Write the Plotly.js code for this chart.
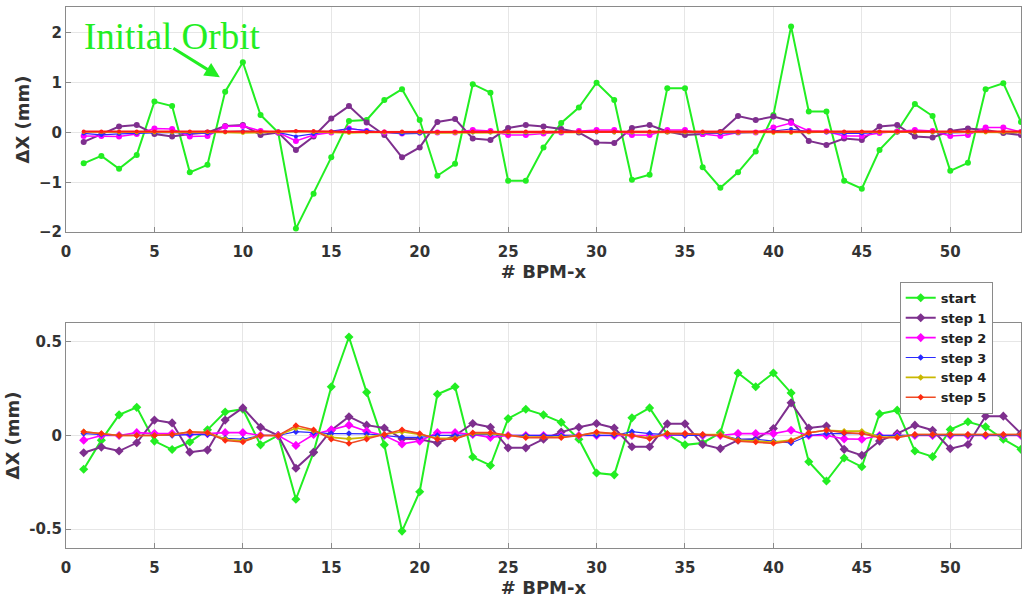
<!DOCTYPE html>
<html>
<head>
<meta charset="utf-8">
<script src="https://cdn.plot.ly/plotly-3.0.1.min.js"></script>
<style>html,body{margin:0;padding:0;background:#fff;}#chart{width:1028px;height:605px;}</style>
</head>
<body>
<div id="chart"></div>
<script>
// BPM index
const bpm = [1,2,3,4,5,6,7,8,9,10,11,12,13,14,15,16,17,18,19,20,21,22,23,24,25,26,27,28,29,30,31,32,33,34,35,36,37,38,39,40,41,42,43,44,45,46,47,48,49,50,51,52,53,54];

// ---- Top panel (initial orbit correction) ----
const topStart = [-0.62,-0.47,-0.73,-0.45,0.62,0.53,-0.8,-0.65,0.82,1.41, 0.35,0.0,-1.93,-1.23,-0.5,0.23,0.25,0.65,0.87,0.25, -0.87,-0.63,0.97,0.8,-0.97,-0.97,-0.3,0.19,0.5,1.0, 0.65,-0.95,-0.85,0.89,0.89,-0.7,-1.11,-0.8,-0.38,0.35, 2.13,0.42,0.42,-0.97,-1.13,-0.35,0.02,0.57,0.33,-0.77, -0.61,0.87,0.99,0.21];
const topStep1 = [-0.19,-0.03,0.12,0.15,-0.03,-0.08,-0.03,0.0,0.13,0.15, -0.05,0.0,-0.35,-0.08,0.28,0.53,0.2,-0.05,-0.5,-0.3, 0.21,0.27,-0.12,-0.15,0.09,0.15,0.12,0.07,0.0,-0.2, -0.21,0.09,0.15,0.02,-0.05,-0.03,0.01,0.33,0.25,0.32, 0.23,-0.17,-0.25,-0.12,-0.15,0.12,0.15,-0.08,-0.1,0.03, 0.08,0.05,-0.01,-0.05];
const topStep2 = [-0.07,-0.07,-0.08,-0.03,0.08,0.07,-0.08,-0.07,0.12,0.13, 0.03,0.0,-0.17,-0.05,0.0,0.08,0.03,0.0,-0.02,0.0, 0.0,0.0,0.05,0.03,-0.05,-0.05,-0.02,0.0,0.03,0.05, 0.05,-0.05,-0.05,0.05,0.05,-0.03,-0.07,0.0,0.0,0.1, 0.19,0.03,0.02,-0.07,-0.07,-0.01,0.02,0.05,0.03,-0.07, -0.05,0.1,0.1,0.01];
const topStep3 = [-0.02,-0.05,-0.03,-0.02,0.0,0.0,-0.02,-0.02,0.02,0.03, 0.01,0.0,-0.08,-0.03,0.02,0.08,0.04,0.0,-0.03,-0.02, 0.0,0.0,0.0,0.0,-0.01,-0.01,0.0,0.0,0.0,0.0, 0.0,0.0,0.0,0.01,0.0,-0.01,-0.02,-0.01,0.0,0.03, 0.07,0.02,0.0,-0.02,-0.02,0.0,0.0,0.01,0.0,-0.01, 0.0,0.01,0.01,0.0];
const topStep4 = [0.01,0.01,0.0,0.0,0.0,0.0,0.01,0.01,0.0,-0.01, 0.0,0.0,0.02,0.01,0.0,-0.01,0.0,0.0,0.01,0.0, -0.01,-0.01,0.0,0.0,0.0,0.0,0.0,0.0,0.0,0.01, 0.0,0.0,0.0,0.0,0.0,0.0,0.0,-0.01,-0.01,-0.01, -0.01,0.0,0.01,0.01,0.01,0.0,0.0,0.0,0.0,0.0, 0.0,0.0,0.0,0.0];
const topStep5 = [0.02,0.02,0.02,0.02,0.02,0.02,0.02,0.02,0.01,0.01, 0.02,0.02,0.03,0.03,0.02,0.01,0.01,0.02,0.02,0.02, 0.01,0.01,0.02,0.02,0.02,0.02,0.02,0.02,0.02,0.02, 0.02,0.02,0.02,0.02,0.02,0.02,0.02,0.01,0.01,0.01, 0.01,0.02,0.02,0.02,0.02,0.02,0.02,0.02,0.02,0.02, 0.02,0.02,0.02,0.02];

// ---- Bottom panel ----
const botStart = [-0.18,-0.025,0.11,0.15,-0.03,-0.075,-0.035,0.03,0.125,0.14, -0.05,0.0,-0.34,-0.09,0.26,0.525,0.23,-0.05,-0.51,-0.3, 0.22,0.26,-0.115,-0.16,0.09,0.14,0.11,0.07,-0.02,-0.2, -0.21,0.094,0.147,0.005,-0.05,-0.04,0.014,0.333,0.26,0.333, 0.227,-0.14,-0.243,-0.12,-0.167,0.115,0.135,-0.083,-0.113,0.032, 0.073,0.046,-0.02,-0.074];
const botStep1 = [-0.092,-0.062,-0.083,-0.039,0.082,0.067,-0.089,-0.078,0.082,0.147, 0.044,0.0,-0.175,-0.09,0.028,0.1,0.055,0.04,-0.018,-0.02, -0.04,0.0,0.064,0.044,-0.066,-0.066,-0.02,0.018,0.044,0.064, 0.04,-0.06,-0.06,0.062,0.062,-0.048,-0.07,-0.025,-0.02,0.037, 0.174,0.04,0.05,-0.074,-0.106,-0.03,0.01,0.055,0.028,-0.07, -0.048,0.103,0.103,0.01];
const botStep2 = [-0.025,0.0,0.0,0.015,0.01,0.01,0.005,0.01,0.015,0.015, 0.0,0.0,-0.053,0.005,0.03,0.055,0.023,0.0,-0.045,-0.03, 0.015,0.015,0.005,-0.01,0.0,0.0,0.0,0.0,0.0,0.0, 0.0,0.0,0.0,0.0,0.005,0.0,0.0,0.01,0.01,0.01, 0.028,0.0,0.0,-0.018,-0.02,0.0,0.0,0.0,0.0,0.0, 0.0,0.0,0.0,0.0];
const botStep3 = [0.01,0.005,0.0,0.0,0.0,0.0,0.005,0.005,-0.015,-0.02, 0.0,0.0,0.02,0.015,0.01,0.01,0.008,0.0,-0.01,-0.01, 0.0,0.0,0.005,0.005,0.0,0.0,0.0,0.0,0.0,0.0, 0.0,0.02,0.01,0.005,0.0,0.0,0.005,-0.02,-0.02,-0.03, -0.04,0.0,0.01,0.01,0.01,0.0,0.0,0.0,0.0,0.0, 0.0,0.0,0.0,0.0];
const botStep4 = [0.02,0.01,0.0,0.0,0.0,0.005,0.018,0.015,-0.02,-0.03, 0.0,0.0,0.04,0.025,-0.01,-0.018,-0.01,0.005,0.02,0.005, -0.015,-0.015,0.01,0.01,0.0,-0.008,-0.008,-0.008,0.0,0.015, 0.01,0.0,-0.012,0.01,0.01,0.005,0.005,-0.025,-0.03,-0.035, -0.025,0.015,0.028,0.023,0.023,-0.008,-0.008,0.005,0.005,0.005, 0.005,0.005,0.005,0.005];
const botStep5 = [0.02,0.01,0.0,0.0,0.0,0.005,0.02,0.015,-0.027,-0.035, 0.0,0.0,0.053,0.03,-0.02,-0.043,-0.02,0.005,0.03,0.01, -0.02,-0.02,0.015,0.015,0.0,-0.012,-0.01,-0.012,0.0,0.018, 0.01,0.0,-0.018,0.01,0.01,0.005,0.0,-0.03,-0.035,-0.042, -0.03,0.015,0.028,0.015,0.01,-0.012,-0.012,0.005,0.005,0.005, 0.005,0.005,0.005,0.005];

const seriesNames = ['start','step 1','step 2','step 3','step 4','step 5'];
const colors = ['#22ee22','#7e2f8e','#ff00ff','#2a2aff','#c9b800','#f04a24'];
const topColors = ['#22ee22','#7e2f8e','#ff00ff','#2a2aff','#c9b800','#ff1a1a'];
const widths = [2,2,1.6,1.2,1.6,1.6];
const msize = [6,6,6,4,4,4];

const topData = [topStart, topStep1, topStep2, topStep3, topStep4, topStep5];
const botData = [botStart, botStep1, botStep2, botStep3, botStep4, botStep5];

const traces = [];
topData.forEach((ys, k) => {
  traces.push({x: bpm, y: ys, xaxis: 'x', yaxis: 'y', type: 'scatter', mode: 'lines+markers',
    name: seriesNames[k], showlegend: false,
    line: {color: topColors[k], width: k === 5 ? 2.2 : widths[k]},
    marker: {color: topColors[k], size: msize[k], symbol: 'circle'}});
});
botData.forEach((ys, k) => {
  traces.push({x: bpm, y: ys, xaxis: 'x2', yaxis: 'y2', type: 'scatter', mode: 'lines+markers',
    name: seriesNames[k], showlegend: true,
    line: {color: colors[k], width: widths[k]},
    marker: {color: k === 5 ? '#ff2a10' : colors[k], size: msize[k] + 1, symbol: 'diamond'}});
});

const FAM = 'DejaVu Sans, Verdana, sans-serif';
const tickFont = {family: FAM, size: 15, color: '#333333', weight: 'bold'};
const titleFont = {family: FAM, size: 18, color: '#333333', weight: 'bold'};
const axCommon = {showline: true, mirror: true, linecolor: '#8a8a8a', linewidth: 1,
  showgrid: true, gridcolor: '#e6e6e6', zeroline: false, ticks: 'inside', ticklen: 5,
  tickcolor: '#8a8a8a', tickfont: tickFont};

const layout = {
  width: 1028, height: 605,
  margin: {l: 66, r: 7, t: 7, b: 57},
  paper_bgcolor: '#ffffff', plot_bgcolor: '#ffffff',
  showlegend: true,
  legend: {x: 0.873, y: 0.492, xanchor: 'left', yanchor: 'top', xref: 'paper', yref: 'paper',
    bgcolor: '#ffffff', bordercolor: '#8a8a8a', borderwidth: 1,
    font: {family: FAM, size: 13, color: '#222', weight: 'bold'},
    tracegroupgap: 0, itemwidth: 30},
  xaxis: Object.assign({}, axCommon, {domain: [0, 1], anchor: 'y', range: [0, 54], dtick: 5, tick0: 0,
    ticklabelstandoff: 6,
    title: {text: '# BPM-x', font: titleFont, standoff: 4}}),
  yaxis: Object.assign({}, axCommon, {domain: [0.584, 1], anchor: 'x', range: [-2, 2.52], dtick: 1,
    title: {text: 'ΔX (mm)', font: titleFont, standoff: 4}}),
  xaxis2: Object.assign({}, axCommon, {domain: [0, 1], anchor: 'y2', range: [0, 54], dtick: 5, tick0: 0,
    ticklabelstandoff: 6,
    title: {text: '# BPM-x', font: titleFont, standoff: 4}}),
  yaxis2: Object.assign({}, axCommon, {domain: [0, 0.416], anchor: 'x2', range: [-0.6, 0.6], dtick: 0.5,
    tickvals: [-0.5, 0, 0.5], ticktext: ['-0.5', '0', '0.5'],
    title: {text: 'ΔX (mm)', font: titleFont, standoff: 4}}),
  annotations: [
    {xref: 'x', yref: 'y', x: 0.9, y: 1.93, xanchor: 'left', yanchor: 'middle', showarrow: false,
      text: 'Initial Orbit', font: {family: 'Liberation Serif, Times New Roman, serif', size: 37, color: '#22ee22'}},
    {xref: 'x', yref: 'y', x: 8.7, y: 1.11, ax: -48, ay: -30, text: '', showarrow: true,
      arrowhead: 2, arrowsize: 1, arrowwidth: 3, arrowcolor: '#22ee22'}
  ]
};

Plotly.newPlot('chart', traces, layout, {displayModeBar: false, staticPlot: true});
</script>
</body>
</html>
